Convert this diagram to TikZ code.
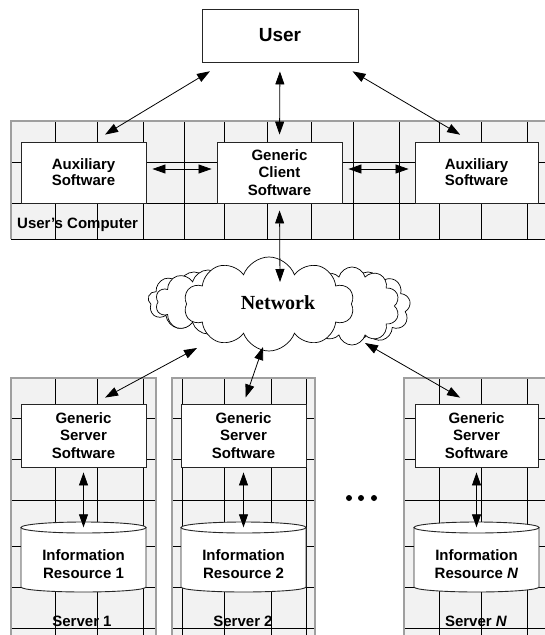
\documentclass[tikz,border=0pt]{standalone}
\usepackage{fontspec}
\setmainfont{Liberation Sans}
\newfontfamily\netfont{Liberation Serif}
\usetikzlibrary{arrows.meta,shapes.symbols,calc}
\newcommand\mycyl[3]{%
  \path[draw=black!85, fill=white, line width=0.9pt] (#1-62.5,527.5) -- (#1-62.5,587)
     arc[start angle=180, end angle=0, x radius=62.5, y radius=5] -- (#1+62.5,527.5) -- cycle;
  \draw[draw=black!85, fill=white, line width=0.9pt] (#1,527.5) ellipse[x radius=62.5, y radius=5.5];
  \node[cylnode] (#2) at (#1,559.75) {};
  \node[lbl, align=center] at (#1,564) {#3};
}
\begin{document}
\begin{tikzpicture}[x=1pt,y=-1pt,
  gridline/.style={black, line width=0.7pt},
  box/.style={draw=black!85, fill=white, line width=0.9pt, inner sep=0pt, align=center,
    font=\fontsize{15}{17.5}\selectfont\bfseries},
  cylnode/.style={inner sep=0pt, minimum width=125pt, minimum height=64.5pt},
  bi/.style={{Triangle[length=13pt,width=9pt]}-{Triangle[length=13pt,width=9pt]}, line width=0.8pt},
  lbl/.style={font=\fontsize{15}{17.5}\selectfont\bfseries, inner sep=0pt},
  cloudy/.style={cloud, draw, fill=white, line width=0.7pt, inner sep=0pt}
]
\useasboundingbox (0,0) rectangle (544,635);

% ---------- User's computer strip
\fill[gray!10] (11,121) rectangle (548,239);
\foreach \x in {55,97,143,184,224,267,311,353,399,439,481,527}
  \draw[gridline] (\x,121) -- (\x,239);
\foreach \y in {162,203}
  \draw[gridline] (11,\y) -- (548,\y);
\draw[gridline] (11,239) -- (548,239);
\draw[gray!75, line width=1.2pt] (548,121) -- (11,121) -- (11,239);

% ---------- server columns
\foreach \a/\b/\xs in {11/156/{55,97,143}, 172/315/{182,224,271,306}, 404/548/{439,481,527}}{
  \fill[gray!10] (\a,378) rectangle (\b,640);
  \foreach \x in \xs \draw[gridline] (\x,378) -- (\x,640);
  \foreach \y in {418,459,500,546,587,628} \draw[gridline] (\a,\y) -- (\b,\y);
  \draw[gray!75, line width=1.2pt] (\a,640) -- (\a,378) -- (\b,378) -- (\b,640);
}

% ---------- boxes
\node[box, minimum width=156pt, minimum height=53pt, font=\fontsize{19}{21}\selectfont\bfseries] (user) at (280,35.5) {User};
\node[box, minimum width=125pt, minimum height=61pt, font=\fontsize{15}{16}\selectfont\bfseries] (auxL) at (83.5,172.5) {Auxiliary\\Software};
\node[box, minimum width=125pt, minimum height=61pt] (gc) at (279.5,172.5) {Generic\\Client\\Software};
\node[box, minimum width=123pt, minimum height=61pt, font=\fontsize{15}{16}\selectfont\bfseries] (auxR) at (476.5,172.5) {Auxiliary\\Software};
\node[lbl, anchor=west] (uc) at (17,225) {User's Computer};

\node[box, minimum width=125pt, minimum height=63pt] (gs1) at (83.5,435.5) {Generic\\Server\\Software};
\node[box, minimum width=125pt, minimum height=63pt] (gs2) at (243.5,435.5) {Generic\\Server\\Software};
\node[box, minimum width=123pt, minimum height=63pt] (gsN) at (476.5,435.5) {Generic\\Server\\Software};

\mycyl{83.5}{ir1}{Information\\Resource 1}
\mycyl{243.5}{ir2}{Information\\Resource 2}
\mycyl{476.5}{irN}{Information\\Resource \textit{N}}

\node[lbl] (s1) at (82,621) {Server 1};
\node[lbl] (s2) at (243,621) {Server 2};
\node[lbl] (sN) at (476,621) {Server \textit{N}};

\foreach \x in {349,361,374} \fill (\x,498) circle[radius=3];

% ---------- cloud
\node[cloudy, cloud puffs=9, aspect=1.6, minimum width=92pt, minimum height=58pt] (cl1) at (194,301) {};
\node[cloudy, cloud puffs=10, aspect=1.6, minimum width=105pt, minimum height=64pt] (cl2) at (208,302) {};
\node[cloudy, cloud puffs=9, aspect=1.3, minimum width=85pt, minimum height=70pt] (cr1) at (368,307) {};
\node[cloudy, cloud puffs=10, aspect=1.3, minimum width=95pt, minimum height=78pt] (cr2) at (352,306) {};
\node[cloudy, cloud puffs=10, cloud puff arc=140, aspect=1.8, minimum width=170pt, minimum height=94pt] (cm) at (269,304) {};
\node[font=\netfont\fontsize{20}{22}\selectfont\bfseries] (net) at (278,303) {Network};

\coordinate (n0) at (280,282);
\coordinate (n1) at (197,348);
\coordinate (n2) at (263,347);
\coordinate (n3) at (365,343);

% ---------- arrows
\draw[bi, shorten <=17pt, shorten >=13.5pt] ([xshift=23pt]user.south west) -- ([xshift=10pt]auxL.north);
\draw[bi, shorten <=9pt, shorten >=7pt] (user.south) -- (gc.north);
\draw[bi, shorten <=17.5pt, shorten >=13.5pt] ([xshift=-21pt]user.south east) -- ([xshift=-4.7pt]auxR.north);
\draw[bi, shorten <=6pt, shorten >=5pt] ([yshift=3.5pt]auxL.east) -- ([yshift=3.5pt]gc.west);
\draw[bi, shorten <=6pt, shorten >=6pt] ([yshift=3.5pt]gc.east) -- ([yshift=3.5pt]auxR.west);
\draw[bi, shorten <=7pt] (gc.south) -- (n0);
\draw[bi, shorten >=12.6pt] (n1) -- ([xshift=10.5pt]gs1.north);
\draw[bi, shorten >=6.4pt] (n2) -- (gs2.north);
\draw[bi, shorten >=12pt] (n3) -- ([xshift=-6pt]gsN.north);
\draw[bi, shorten <=5pt] (gs1.south) -- (ir1.north);
\draw[bi, shorten <=5pt] (gs2.south) -- (ir2.north);
\draw[bi, shorten <=5pt] (gsN.south) -- (irN.north);
\end{tikzpicture}
\end{document}
